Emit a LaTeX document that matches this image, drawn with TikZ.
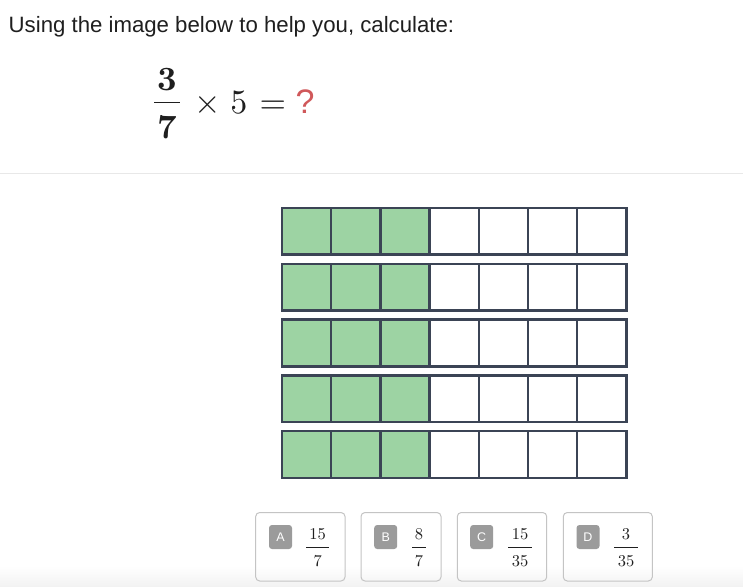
\documentclass[tikz,border=0pt]{standalone}
\usepackage[no-math]{fontspec}
\newfontfamily\uisans{Liberation Sans}
\newfontfamily\lmten{lmroman10-regular.otf}
\newfontfamily\lmtenb{lmroman10-bold.otf}
\definecolor{gridline}{HTML}{3B4455}
\definecolor{cellgreen}{HTML}{9DD3A3}
\definecolor{badgegray}{HTML}{9B9B9B}
\definecolor{boxline}{HTML}{C4C4C4}
\definecolor{qred}{HTML}{D0585A}
\definecolor{sepline}{HTML}{E8E8E8}
\definecolor{textdark}{HTML}{1F1F1F}
\tikzset{
  titletext/.style={anchor=base west,inner sep=0,text=textdark,font=\uisans\fontsize{22.2}{26}\selectfont},
  eqbig/.style={anchor=base,inner sep=0,text=textdark,font=\lmten\fontsize{34}{40}\selectfont},
  eqbold/.style={eqbig,font=\lmtenb\fontsize{34}{40}\selectfont},
  cellbox/.style={draw=gridline,line width=2.5pt},
  ansbox/.style={draw=boxline,line width=1pt,rounded corners=4pt,inner sep=0},
  badge/.style={fill=badgegray,rounded corners=3pt,minimum width=23pt,minimum height=24pt,inner sep=0,text=white,font=\uisans\fontsize{12.5}{14}\selectfont},
  fracnum/.style={anchor=base,inner sep=0,text=textdark,font=\lmten\fontsize{16.5}{19}\selectfont},
  fracbar/.style={draw=textdark,line width=0.9pt},
}
\begin{document}
\begin{tikzpicture}[x=1pt,y=-1pt]
\useasboundingbox (0,0) rectangle (743,586);
\fill[white] (0,0) rectangle (743,586);
\shade[top color=white,bottom color=black!5] (0,566) rectangle (743,586);
% title
\node[titletext] (title) at (8.5,32.3) {Using the image below to help you, calculate:};
% equation
\node[eqbold] (num) at (167.2,90) {3};
\node[eqbold] (den) at (167.2,138.3) {7};
\draw[fracbar,line width=1.5pt] (154.3,102.7) -- (180,102.7);
\node[eqbig] (times) at (207.3,113.3) {×};
\node[eqbig] (five) at (238.9,113.3) {5};
\node[eqbig] (equals) at (272.9,113.3) {=};
\node[eqbig,text=qred,font=\uisans\fontsize{34}{40}\selectfont] (qmark) at (305,113.3) {?};
% separator
\draw[sepline,line width=1pt] (0,173.3) -- (743,173.3);
% grid
\foreach \r in {0,...,4}{
  \foreach \c in {0,...,6}{
    \pgfmathsetmacro\xa{282+49.2*\c}
    \pgfmathsetmacro\ya{208+55.8*\r}
    \ifnum\c<3
      \draw[cellbox,fill=cellgreen] (\xa,\ya) rectangle ++(49.2,46.7);
    \else
      \draw[cellbox,fill=white] (\xa,\ya) rectangle ++(49.2,46.7);
    \fi
  }
}
% answer boxes
\foreach \lab/\xl/\xr/\bx/\fx/\nu/\de/\hw in {
  A/255.7/345/280.5/317.7/15/7/11.5,
  B/361/441/385.7/419/8/7/7,
  C/457.3/546.7/481.7/520/15/35/11.7,
  D/563.3/652.3/588/626/3/35/11.7}{
  \pgfmathsetmacro\bw{\xr-\xl}
  \pgfmathsetmacro\bc{(\xr+\xl)/2}
  \node[ansbox,minimum width=\bw pt,minimum height=68.5pt] (box\lab) at (\bc,546.75) {};
  \node[badge] (badge\lab) at (\bx,537) {\lab};
  \node[fracnum] (num\lab) at (\fx,539) {\nu};
  \node[fracnum] (den\lab) at (\fx,566.5) {\de};
  \draw[fracbar] (\fx-\hw,547.7) -- (\fx+\hw,547.7);
}
\end{tikzpicture}
\end{document}
